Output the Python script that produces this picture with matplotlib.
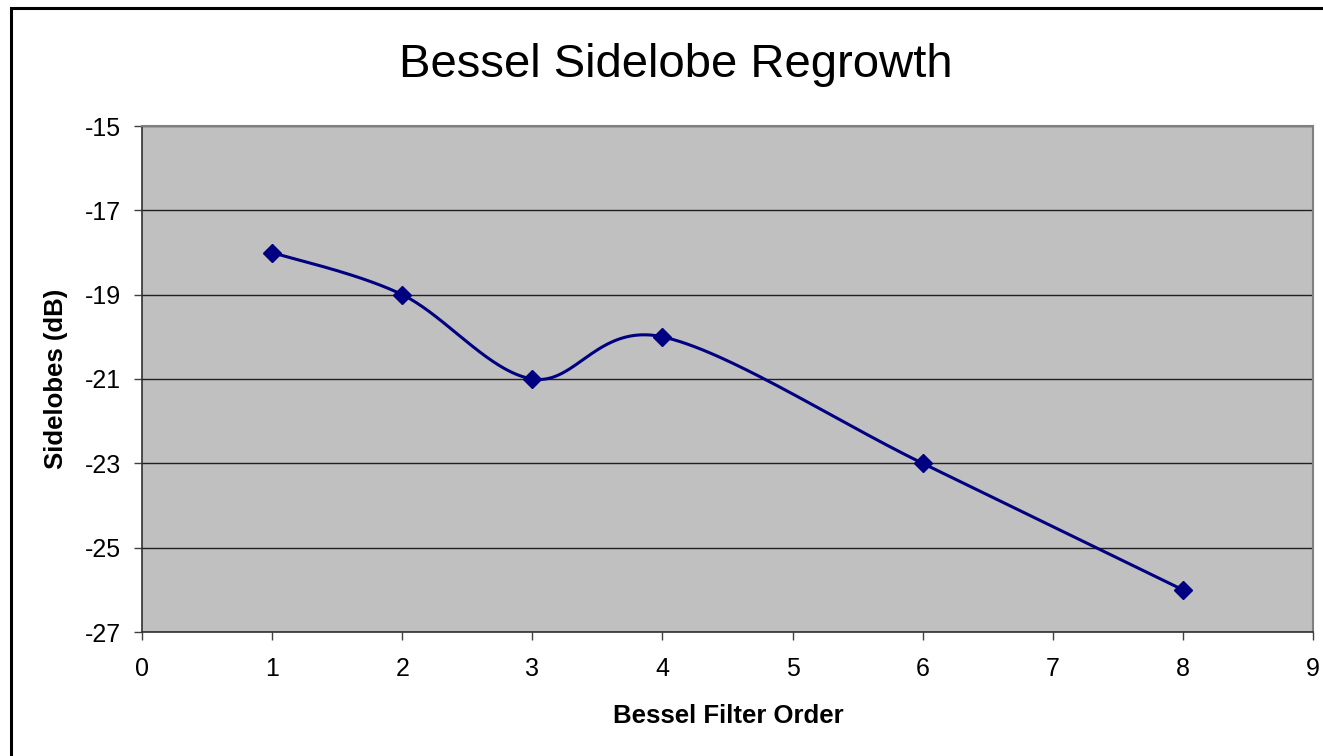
import numpy as np
import matplotlib
matplotlib.use("Agg")
import matplotlib.pyplot as plt
from matplotlib.patches import Rectangle

plt.rcParams['font.family'] = ['Liberation Sans', 'DejaVu Sans']

filter_order = [1, 2, 3, 4, 6, 8]
sidelobes_db = [-18, -19, -21, -20, -23, -26]
x_ticks = list(range(0, 10))
y_ticks = [-27, -25, -23, -21, -19, -17, -15]

W, H = 1323, 756
fig = plt.figure(figsize=(W / 100, H / 100), dpi=100)
fig.patch.set_facecolor('white')

# outer chart border
fig.patches.append(Rectangle((11 / W, -0.05), 1.1, (756 - 8) / H + 0.05,
                             transform=fig.transFigure, fill=False,
                             edgecolor='black', linewidth=2.2, zorder=0))

ax = fig.add_axes([142 / W, 1 - 632 / H, (1313 - 142) / W, (632 - 126) / H])
ax.set_facecolor('#C0C0C0')


def excel_smooth(xs, ys, n=60):
    pts = np.column_stack([xs, ys]).astype(float)
    out = []
    m = len(pts)
    for i in range(m - 1):
        p0 = pts[i - 1] if i > 0 else pts[i]
        p1 = pts[i]
        p2 = pts[i + 1]
        p3 = pts[i + 2] if i + 2 < m else pts[i + 1]
        c1 = p1 + (p2 - p0) / 6.0
        c2 = p2 - (p3 - p1) / 6.0
        t = np.linspace(0, 1, n)[:, None]
        seg = ((1 - t) ** 3) * p1 + 3 * ((1 - t) ** 2) * t * c1 + 3 * (1 - t) * t ** 2 * c2 + t ** 3 * p2
        out.append(seg if i == 0 else seg[1:])
    out = np.vstack(out)
    return out[:, 0], out[:, 1]


sx, sy = excel_smooth(filter_order, sidelobes_db)
ax.plot(sx, sy, color='#000080', linewidth=2.2, zorder=3)
ax.plot(filter_order, sidelobes_db, linestyle='none', marker='D', markersize=9,
        color='#000080', zorder=4)

ax.set_xlim(0, 9)
ax.set_ylim(-27, -15)
ax.set_xticks(x_ticks)
ax.set_yticks(y_ticks)
ax.set_xticklabels([str(v) for v in x_ticks])
ax.set_yticklabels([str(v) for v in y_ticks])
ax.yaxis.grid(True, color='#202020', linewidth=1.0)
ax.set_axisbelow(True)
ax.tick_params(axis='both', direction='out', length=6, width=1, color='#404040',
               labelsize=18, labelcolor='black')
ax.tick_params(axis='x', pad=12)
ax.tick_params(axis='y', pad=9)

for s in ['top', 'right']:
    ax.spines[s].set_color('#808080')
    ax.spines[s].set_linewidth(1.5)
for s in ['left', 'bottom']:
    ax.spines[s].set_color('#303030')
    ax.spines[s].set_linewidth(1.2)

fig.text(676 / W, 1 - 65 / H, 'Bessel Sidelobe Regrowth', ha='center', va='center',
         fontsize=34)
fig.text(728 / W, 1 - 716 / H, 'Bessel Filter Order', ha='center', va='center',
         fontsize=18.5, fontweight='bold')
fig.text(56 / W, 1 - 379 / H, 'Sidelobes (dB)', ha='center', va='center',
         fontsize=18.5, fontweight='bold', rotation=90)

fig.savefig('out.png', dpi=100, facecolor='white')
